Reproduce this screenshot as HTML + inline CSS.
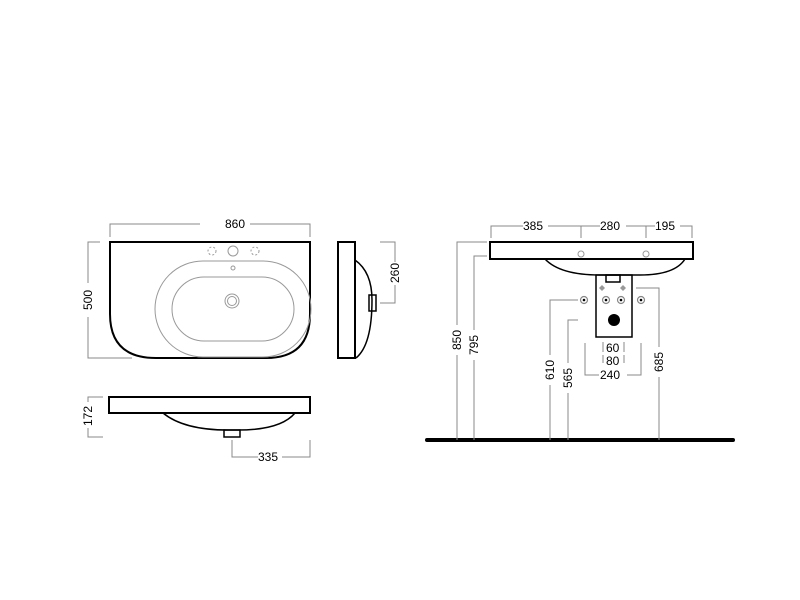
<!DOCTYPE html>
<html><head><meta charset="utf-8"><style>
html,body{margin:0;padding:0;background:#fff}
svg{display:block}
text{font-family:"Liberation Sans",sans-serif;font-size:12px;fill:#000}
</style></head><body>
<svg width="800" height="600" viewBox="0 0 800 600">
<g fill="none" stroke="#000" stroke-width="2">
<!-- top view -->
<path d="M110,242 H310 V314 Q310,358 266,358 H156 Q110,358 110,314 Z"/>
<!-- side view -->
<rect x="338" y="242" width="17" height="116"/>
<path d="M355,260 Q372,272 372,300 Q372,345 356,358" stroke-width="1.5"/>
<rect x="369" y="295" width="7" height="16" stroke-width="1.5"/>
<!-- front view -->
<rect x="109" y="397" width="201" height="16"/>
<path d="M163,413 Q185,431 233,430 Q280,431 295,413" stroke-width="1.5"/>
<rect x="224" y="430" width="16" height="7" stroke-width="1.5"/>
<!-- right view -->
<rect x="490" y="242" width="203" height="17"/>
<path d="M545,259 Q560,275 600,275 H640 Q675,275 685,259" stroke-width="1.5"/>
<rect x="596" y="275" width="36" height="62" stroke-width="1.5"/>
<rect x="606" y="275" width="14" height="7" stroke-width="1.5"/>
</g>
<line x1="427" y1="440" x2="733" y2="440" stroke="#000" stroke-width="4" stroke-linecap="round"/>
<g fill="none" stroke="#999" stroke-width="1">
<rect x="155" y="261" width="156" height="96" rx="48"/>
<rect x="172" y="277" width="122" height="64" rx="32"/>
<circle cx="232" cy="301" r="7"/><circle cx="232" cy="301" r="4.5"/>
<circle cx="233" cy="251" r="5"/>
<circle cx="212" cy="251" r="4" stroke-dasharray="2,2"/>
<circle cx="255" cy="251" r="4" stroke-dasharray="2,2"/>
<circle cx="233" cy="268" r="2"/>
<circle cx="581" cy="254" r="3"/><circle cx="646" cy="254" r="3"/>
</g>
<g fill="#fff" stroke="#888" stroke-width="1.2">
<circle cx="584" cy="300" r="3.5"/><circle cx="606" cy="300" r="3.5"/><circle cx="621" cy="300" r="3.5"/><circle cx="641" cy="300" r="3.5"/>
</g>
<g fill="#000"><circle cx="584" cy="300" r="1.3"/><circle cx="606" cy="300" r="1.3"/><circle cx="621" cy="300" r="1.3"/><circle cx="641" cy="300" r="1.3"/>
<circle cx="614" cy="320" r="6"/></g>
<g fill="#999"><path d="M602,285 l3,3 l-3,3 l-3,-3z"/><path d="M623,285 l3,3 l-3,3 l-3,-3z"/></g>
<!-- dimension lines -->
<g fill="none" stroke="#888" stroke-width="1">
<path d="M110,237 V224 H200 M250,224 H310 V237"/>
<path d="M100,242 H88 V283 M88,317 V358 H132"/>
<path d="M380,242 H395 V262 M395,285 V303 H380"/>
<path d="M103,397 H88 V402 M88,428 V437 H103"/>
<path d="M232,440 V457 H258 M282,457 H310 V440"/>
<path d="M491,238 V226 H523 M548,226 H600 M626,226 H655 M680,226 H692 V238 M581,226 V238 M646,226 V238"/>
<path d="M487,242 H457 V325 M457,355 V440"/>
<path d="M487,256 H474 V330 M474,360 V440"/>
<path d="M578,300 H550 V355 M550,385 V440"/>
<path d="M578,320 H568 V363 M568,393 V440"/>
<path d="M636,288 H659 V347 M659,377 V440"/>
<path d="M585,343 V375 H599 M627,375 H641 V343"/>
<path d="M603,342 V352 M624,342 V352 M603,355 V363 M624,355 V363"/>
</g>
<text x="225" y="228">860</text>
<text x="523" y="230">385</text>
<text x="600" y="230">280</text>
<text x="655" y="230">195</text>
<text x="258" y="461">335</text>
<text x="600" y="379">240</text>
<text x="606" y="352">60</text>
<text x="606" y="365">80</text>
<text transform="translate(92,300) rotate(-90)" text-anchor="middle">500</text>
<text transform="translate(399,273) rotate(-90)" text-anchor="middle">260</text>
<text transform="translate(92,416) rotate(-90)" text-anchor="middle">172</text>
<text transform="translate(461,340) rotate(-90)" text-anchor="middle">850</text>
<text transform="translate(478,345) rotate(-90)" text-anchor="middle">795</text>
<text transform="translate(554,370) rotate(-90)" text-anchor="middle">610</text>
<text transform="translate(572,378) rotate(-90)" text-anchor="middle">565</text>
<text transform="translate(663,362) rotate(-90)" text-anchor="middle">685</text>
</svg>
</body></html>
